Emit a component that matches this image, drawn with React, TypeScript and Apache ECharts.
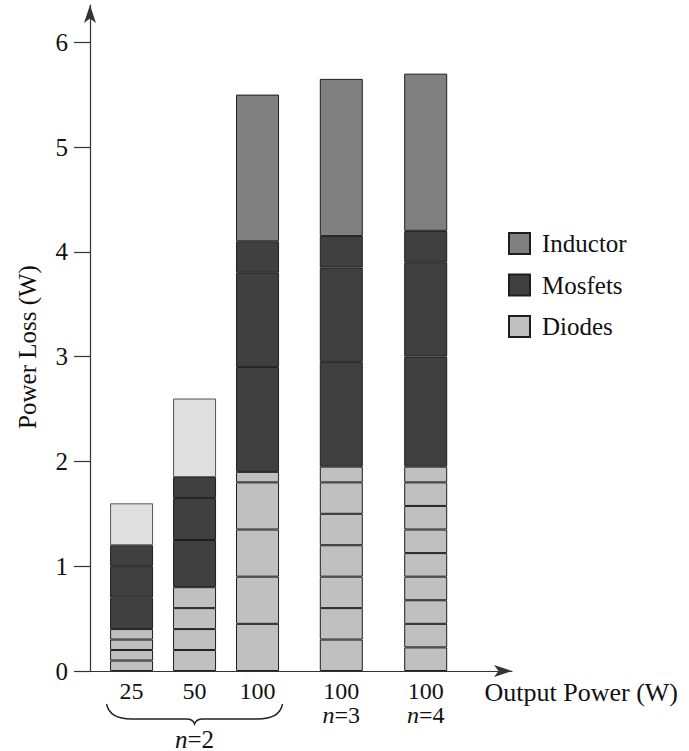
import React, { useEffect, useRef } from "react";
import * as echarts from "echarts";

// ---- data ----
const categories = ["25", "50", "100", "100", "100"];
const groupLabels = ["n=2", "n=2", "n=2", "n=3", "n=4"];
const diodeSegments: number[][] = [
  [0.1, 0.1, 0.1, 0.1],
  [0.2, 0.2, 0.2, 0.2],
  [0.45, 0.45, 0.45, 0.45, 0.1],
  [0.3, 0.3, 0.3, 0.3, 0.3, 0.3, 0.15],
  [0.225, 0.225, 0.225, 0.225, 0.225, 0.225, 0.225, 0.225, 0.15],
];
const mosfetSegments: number[][] = [
  [0.3, 0.3, 0.2],
  [0.45, 0.4, 0.2],
  [1.0, 0.9, 0.3],
  [1.0, 0.9, 0.3],
  [1.05, 0.9, 0.3],
];
const inductorLoss = [0.4, 0.75, 1.4, 1.5, 1.5];
const yTicks = [0, 1, 2, 3, 4, 5, 6];

// ---- layout (slot positions of the bars on the x axis) ----
const barSlots = [1, 2, 3, 4.33, 5.67];
const lightTop = [true, true, false, false, false];

const FONT = "Liberation Serif";
const FS = 25;
const C_DIODE = "#c0c0c0";
const C_MOS = "#404040";
const C_IND = "#808080";
const C_LIGHT = "#dfdfdf";
const BORDER = "#1e1e1e";

echarts.graphic.registerShape(
  "brace",
  echarts.graphic.extendPath(
    "M0,0 C2,10 10,15 25,15 L80,15 C84,15 87,17 88,20 C89,17 92,15 96,15 L151,15 C166,15 174,10 176,0",
    {}
  )
);

export default function App() {
  const ref = useRef<HTMLDivElement>(null);
  useEffect(() => {
    if (!ref.current) return;
    const chart = echarts.init(ref.current, null, { renderer: "svg" });
    const series: any[] = [];
    const mk = (name: string, color: string, vals: (number | string)[], extra?: (j: number) => any) => ({
      type: "bar",
      name,
      stack: "total",
      barWidth: 43,
      encode: { x: 1, y: 0 },
      itemStyle: { color, borderColor: BORDER, borderWidth: 1 },
      data: barSlots.map((x, j) => {
        const e = extra ? extra(j) : undefined;
        return e ? { value: [vals[j], x], itemStyle: e } : [vals[j], x];
      }),
    });
    const maxD = Math.max(...diodeSegments.map((s) => s.length));
    for (let i = 0; i < maxD; i++) {
      series.push(mk("Diodes", C_DIODE, diodeSegments.map((s) => s[i] ?? "-")));
    }
    const maxM = Math.max(...mosfetSegments.map((s) => s.length));
    for (let i = 0; i < maxM; i++) {
      series.push(mk("Mosfets", C_MOS, mosfetSegments.map((s) => s[i] ?? "-")));
    }
    series.push(
      mk("Inductor", C_IND, inductorLoss, (j) =>
        lightTop[j] ? { color: C_LIGHT, borderColor: "#555" } : undefined
      )
    );

    const labelFor = (v: number) => {
      let k = 0;
      barSlots.forEach((s, i) => {
        if (Math.abs(s - v) < Math.abs(barSlots[k] - v)) k = i;
      });
      const n = groupLabels[k];
      return k >= 3
        ? `{a|${categories[k]}}\n{i|n}{a|${n.slice(1)}}`
        : `{a|${categories[k]}}`;
    };

    chart.setOption({
      animation: false,
      textStyle: { fontFamily: FONT },
      grid: { left: 90, right: 177, top: 5, bottom: 80, containLabel: false },
      legend: {
        data: ["Inductor", "Mosfets", "Diodes"],
        orient: "vertical",
        left: 503,
        top: 226,
        icon: "rect",
        itemWidth: 21,
        itemHeight: 21,
        itemGap: 16.5,
        textStyle: { fontFamily: FONT, fontSize: FS, color: "#111", padding: [0, 0, 0, 7] },
      },
      xAxis: {
        type: "value",
        min: 0.34,
        max: 7.04,
        name: "Output Power (W)",
        nameLocation: "end",
        nameGap: 166,
        nameTextStyle: {
          fontFamily: FONT,
          fontSize: 26,
          color: "#111",
          align: "right",
          verticalAlign: "top",
          padding: [8, 0, 0, 0],
        },
        axisLine: {
          show: true,
          symbol: ["none", "arrow"],
          symbolSize: [9, 18],
          lineStyle: { color: "#333", width: 1.2 },
        },
        axisTick: { show: false },
        splitLine: { show: false },
        axisLabel: {
          customValues: barSlots,
          margin: 8,
          formatter: labelFor,
          rich: {
            a: { fontFamily: FONT, fontSize: 24, color: "#111", lineHeight: 24 },
            i: { fontFamily: FONT, fontSize: 24, color: "#111", fontStyle: "italic", lineHeight: 24 },
          },
        },
      },
      yAxis: {
        type: "value",
        min: 0,
        max: 6.355,
        name: "Power Loss (W)",
        nameLocation: "middle",
        nameGap: 50,
        nameTextStyle: { fontFamily: FONT, fontSize: FS, color: "#111", padding: [0, 18, 0, 0] },
        axisLine: {
          show: true,
          symbol: ["none", "arrow"],
          symbolSize: [9, 18],
          lineStyle: { color: "#333", width: 1.2 },
        },
        axisTick: {
          show: true,
          customValues: yTicks,
          length: 16,
          lineStyle: { color: "#333", width: 1.2 },
        },
        splitLine: { show: false },
        axisLabel: {
          customValues: yTicks,
          margin: 22,
          fontFamily: FONT,
          fontSize: FS,
          color: "#111",
        },
      },
      series,
    });

    const pL = chart.convertToPixel({ gridIndex: 0 }, [barSlots[0], 0]) as number[];
    const pR = chart.convertToPixel({ gridIndex: 0 }, [barSlots[2], 0]) as number[];
    const left = pL[0] - 25;
    const right = pR[0] + 25;
    const mid = (left + right) / 2;
    chart.setOption({
      graphic: [
        {
          type: "brace",
          x: left,
          y: pL[1] + 33,
          scaleX: (right - left) / 176,
          scaleY: 1,
          style: { fill: "none", stroke: "#222", lineWidth: 1.4 },
        },
        {
          type: "text",
          x: mid,
          y: pL[1] + 68,
          style: {
            text: "{i|n}{a|=2}",
            align: "center",
            verticalAlign: "middle",
            rich: {
              a: { fontFamily: FONT, fontSize: FS, fill: "#111" },
              i: { fontFamily: FONT, fontSize: FS, fill: "#111", fontStyle: "italic" },
            },
          },
        },
      ],
    });

    return () => chart.dispose();
  }, []);
  return (
    <div
      ref={ref}
      style={{ position: "fixed", left: 0, top: 0, width: 689, height: 751, background: "#fff" }}
    />
  );
}
